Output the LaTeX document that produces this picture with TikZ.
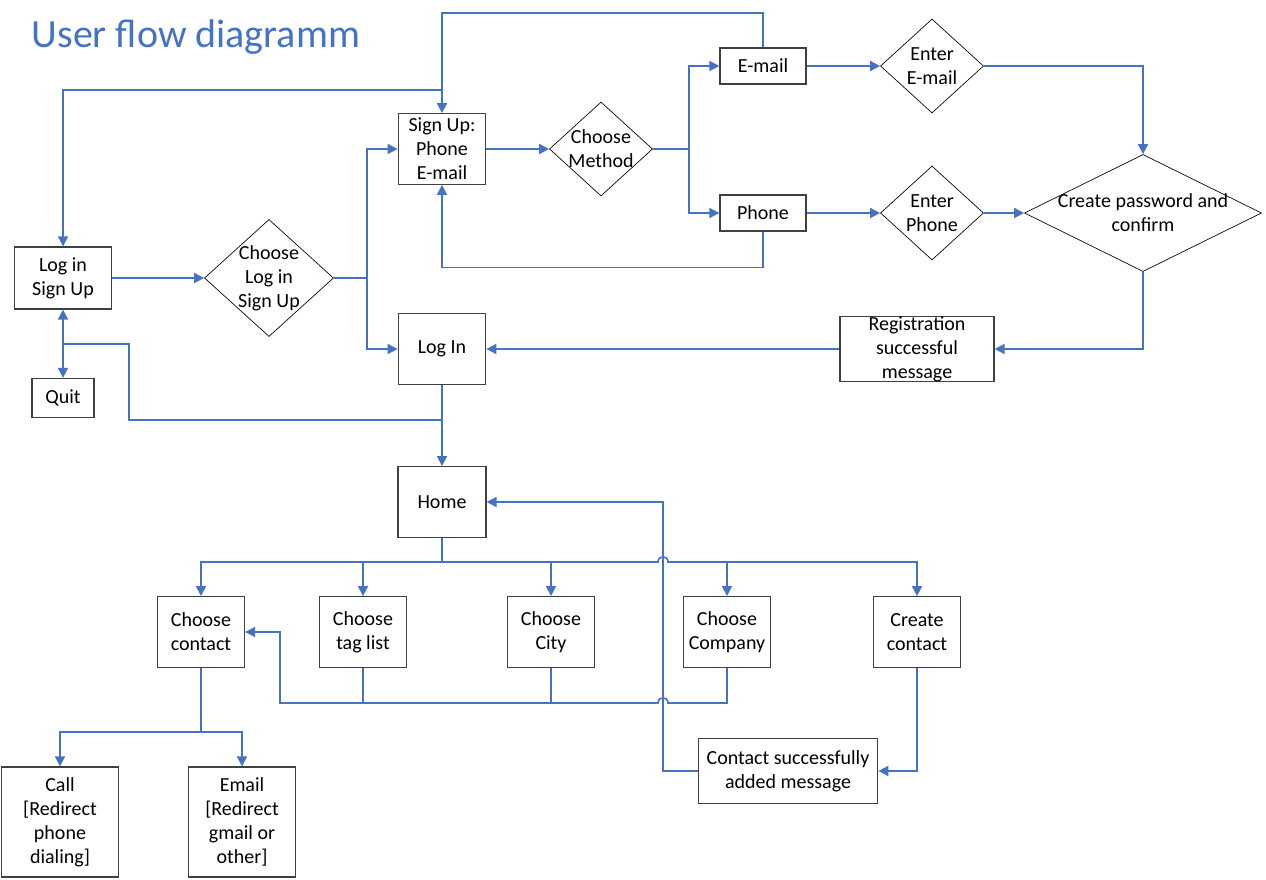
\documentclass[tikz,border=0pt]{standalone}
\usepackage{fontspec}
\setmainfont{Carlito}
\usepackage{tikz}
\usetikzlibrary{shapes.geometric,arrows.meta}
\definecolor{flowblue}{RGB}{68,114,196}
\definecolor{boxgray}{RGB}{64,64,64}

\begin{document}
\begin{tikzpicture}[x=0.75pt,y=-0.75pt,
  font=\fontsize{15}{18}\selectfont,
  box/.style={draw=boxgray,line width=0.9pt,inner sep=0pt,align=center},
  decision/.style={diamond,draw=black,line width=0.5pt,inner sep=0pt},
  flow/.style={draw=flowblue,line width=1.2pt,-{Triangle[length=7.5pt,width=7.5pt]}},
  link/.style={draw=flowblue,line width=1.2pt}]
\useasboundingbox (0,0) rectangle (1266,880);

% Title
\node[anchor=base west,text=flowblue,font=\fontsize{30}{36}\selectfont] (title) at (27,48) {User flow diagramm};

% Login and sign up
\node[box,minimum width=72.4pt,minimum height=46.5pt] (login) at (63,278) {Log in\\Sign Up};
\node[box,minimum width=46.5pt,minimum height=29.3pt] (quit) at (63,398) {Quit};
\node[decision,minimum width=96.8pt,minimum height=87.8pt,
  label={[align=center]center:Choose\\Log in\\Sign Up}] (chooseLogin) at (269,278) {};
\node[box,minimum width=65.6pt,minimum height=52.9pt] (signup) at (442,149) {Sign Up:\\Phone\\E-mail};
\node[box,minimum width=65.6pt,minimum height=52.9pt] (logIn) at (442,349) {Log In};
\node[decision,minimum width=77.3pt,minimum height=70.5pt,
  label={[align=center]center:Choose\\Method}] (chooseMethod) at (601,149) {};
\node[box,minimum width=64.5pt,minimum height=27pt] (email) at (763,66) {E-mail};
\node[box,minimum width=64.5pt,minimum height=27pt] (phone) at (763,213) {Phone};
\node[decision,minimum width=77.3pt,minimum height=70.5pt,
  label={[align=center]center:Enter\\E-mail}] (enterMail) at (932,66) {};
\node[decision,minimum width=77.3pt,minimum height=70.5pt,
  label={[align=center]center:Enter\\Phone}] (enterPhone) at (932,213) {};
\node[decision,minimum width=177.8pt,minimum height=87.8pt,
  label={[align=center]center:Create password and\\confirm}] (password) at (1143,213) {};
\node[box,minimum width=115.5pt,minimum height=48.8pt] (regMsg) at (917,349) {Registration\\successful\\message};

% Home and contacts
\node[box,minimum width=66pt,minimum height=53pt] (home) at (442,502) {Home};
\node[box,minimum width=65.3pt,minimum height=53pt] (chContact) at (201,632) {Choose\\contact};
\node[box,minimum width=65.3pt,minimum height=53pt] (chTag) at (363,632) {Choose\\tag list};
\node[box,minimum width=65.3pt,minimum height=53pt] (chCity) at (551,632) {Choose\\City};
\node[box,minimum width=65.3pt,minimum height=53pt] (chCompany) at (727,632) {Choose\\Company};
\node[box,minimum width=65.3pt,minimum height=53pt] (create) at (917,632) {Create\\contact};
\node[box,minimum width=87.8pt,minimum height=82.5pt] (call) at (60,822) {Call\\{[}Redirect\\phone\\dialing{]}};
\node[box,minimum width=80pt,minimum height=82.5pt] (mailBox) at (242,822) {Email\\{[}Redirect\\gmail or\\other{]}};
\node[box,minimum width=134.6pt,minimum height=48.8pt] (contactMsg) at (788,771) {Contact successfully\\added message};

% Junction points
\coordinate (splitA) at (367,278);
\coordinate (splitB) at (689,149);
\coordinate (topTurn) at (442,13);
\coordinate (branchUp) at (442,90);
\coordinate (backLeft) at (129,420);
\coordinate (quitSplit) at (63,344);
\coordinate (homeBus) at (442,562);
\coordinate (retBus) at (280,703);
\coordinate (backHome) at (663,502);
\coordinate (contactSplit) at (201,732);

% Sign up flow
\draw[flow] (login.east) -- (chooseLogin.west);
\draw[flow] (chooseLogin.east) -- (splitA) |- (signup.west);
\draw[flow] (splitA) |- (logIn.west);
\draw[flow] (signup.east) -- (chooseMethod.west);
\draw[flow] (chooseMethod.east) -- (splitB) |- (email.west);
\draw[flow] (splitB) |- (phone.west);
\draw[flow] (email) -- (enterMail);
\draw[flow] (phone) -- (enterPhone);
\draw[flow] (enterPhone) -- (password);
\draw[flow] (enterMail.east) -| (password.north);
\draw[flow] (password.south) |- (regMsg.east);
\draw[flow] (regMsg) -- (logIn);
\draw[flow] (phone.south) -- ++(0,36) -| (signup.south);
\draw[flow] (email.north) |- (topTurn) -- (signup.north);
\draw[flow] (branchUp) -| (login.north);

% Log in flow
\draw[flow] (logIn.south) -- (home.north);
\draw[link] (logIn.south |- backLeft) -- (backLeft) |- (quitSplit);
\draw[flow] (quitSplit) -- (login.south);
\draw[flow] (quitSplit) -- (quit.north);

% Home bus with hops
\draw[link] (home.south) -- (homeBus);
\draw[flow] (homeBus) -| (chContact.north);
\draw[flow] (homeBus) -| (chTag.north);
\draw[flow] (homeBus) -| (chCity.north);
\draw[flow] (homeBus) -- (658,562) .. controls (658,555) and (668,555) .. (668,562) -| (chCompany.north);
\draw[flow] (chCompany.north |- homeBus) -| (create.north);

% Back to choose contact
\draw[flow] (chCompany.south) |- (668,703) .. controls (668,696) and (658,696) .. (658,703) -- (retBus) |- (chContact.east);
\draw[link] (chCity.south) -- (chCity.south |- retBus);
\draw[link] (chTag.south) -- (chTag.south |- retBus);

% Contact actions
\draw[link] (chContact.south) -- (contactSplit);
\draw[flow] (contactSplit) -| (call.north);
\draw[flow] (contactSplit) -| (mailBox.north);
\draw[flow] (create.south) |- (contactMsg.east);
\draw[flow] (contactMsg.west) -| (backHome) -- (home.east);
\end{tikzpicture}
\end{document}
